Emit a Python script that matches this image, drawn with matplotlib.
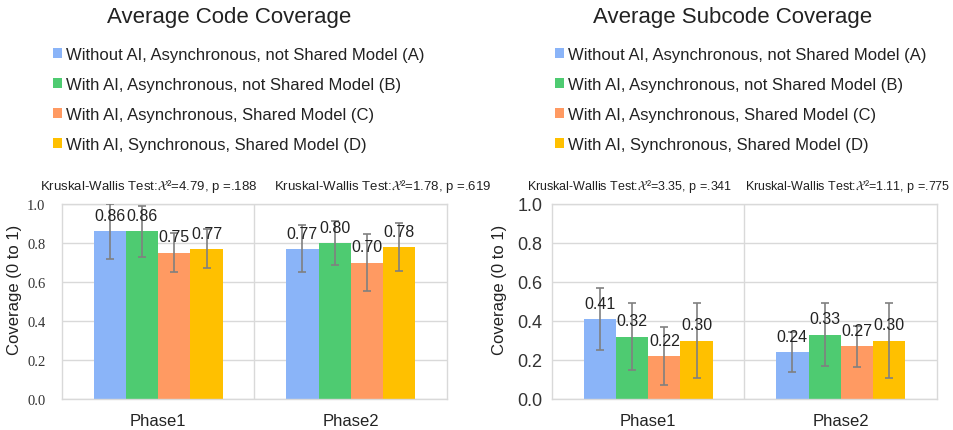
import matplotlib
matplotlib.use("Agg")
import matplotlib.pyplot as plt
import numpy as np

plt.rcParams['font.family'] = ['Liberation Sans', 'DejaVu Sans']
plt.rcParams['mathtext.fontset'] = 'stix'

phases = ['Phase1', 'Phase2']
groups = ['Without AI, Asynchronous, not Shared Model (A)',
          'With AI, Asynchronous, not Shared Model (B)',
          'With AI, Asynchronous, Shared Model (C)',
          'With AI, Synchronous, Shared Model (D)']
colors = ['#8AB4F8', '#4ECB71', '#FF9A62', '#FFC000']

# mean coverage per group, one list per phase
code_mean = [[0.86, 0.86, 0.75, 0.77],
             [0.77, 0.80, 0.70, 0.78]]
code_err = [[0.14, 0.13, 0.10, 0.10],
            [0.12, 0.115, 0.147, 0.123]]
sub_mean = [[0.41, 0.32, 0.22, 0.30],
            [0.24, 0.33, 0.27, 0.30]]
sub_err = [[0.158, 0.172, 0.148, 0.19],
           [0.104, 0.16, 0.104, 0.19]]

code_tests = ['Kruskal-Wallis Test:$\\mathcal{X}$\u00b2=4.79, p =.188',
              'Kruskal-Wallis Test:$\\mathcal{X}$\u00b2=1.78, p =.619']
sub_tests = ['Kruskal-Wallis Test:$\\mathcal{X}$\u00b2=3.35, p =.341',
             'Kruskal-Wallis Test:$\\mathcal{X}$\u00b2=1.11, p =.775']

W, H = 954, 431
fig = plt.figure(figsize=(W / 100, H / 100), dpi=100)

grid_c = '#d9d9d9'
bar_w = 0.1675


def panel(left, mean, err, title, tests, tick_font, tick_size, tick_pad,
          title_x, test_x, test_size, ylab_x, leg_x):
    ax = fig.add_axes([left / W, 31 / H, 385 / W, 195 / H])
    x = np.arange(len(phases))
    mean = np.array(mean)
    err = np.array(err)
    bars = []
    for i in range(len(groups)):
        pos = x + (i - 1.5) * bar_w
        b = ax.bar(pos, mean[:, i], bar_w, color=colors[i], label=groups[i],
                   zorder=2)
        bars.append(b)
        ax.errorbar(pos, mean[:, i], yerr=err[:, i], fmt='none',
                    ecolor='#808080', elinewidth=1.2, capsize=3, capthick=1.2,
                    zorder=3)
        for xx, v in zip(pos, mean[:, i]):
            ax.annotate('%.2f' % v, (xx, v), xytext=(0, 6),
                        textcoords='offset points', ha='center', va='bottom',
                        fontsize=11.5, color='#222222', zorder=4)
    ax.set_xlim(-0.5, 1.5)
    ax.set_ylim(0, 1.0)
    ax.set_yticks(np.arange(0, 1.01, 0.2))
    ax.set_yticklabels(['%.1f' % t for t in np.arange(0, 1.01, 0.2)],
                       family=tick_font, fontsize=tick_size, color='#333333')
    ax.set_xticks(x)
    ax.set_xticklabels(phases, fontsize=12, color='#222222')
    ax.tick_params(length=0)
    ax.tick_params(axis='y', pad=tick_pad)
    ax.tick_params(axis='x', pad=10)
    ax.yaxis.grid(True, color=grid_c, linewidth=1, zorder=0)
    ax.axvline(0.5, color=grid_c, linewidth=1, zorder=0)
    for s in ax.spines.values():
        s.set_color(grid_c)
        s.set_linewidth(1)
    ax.set_axisbelow(True)
    fig.text(ylab_x / W, 1 - 290 / H, 'Coverage (0 to 1)', rotation=90,
             ha='center', va='center', fontsize=12, color='#222222')
    for tx, t in zip(test_x, tests):
        fig.text(tx / W, 1 - 187 / H, t, ha='left', va='center',
                 fontsize=test_size, color='#222222')
    fig.text(title_x / W, 1 - 17 / H, title, ha='center', va='center',
             fontsize=16, color='#222222')
    fig.legend(handles=bars, labels=groups, loc='upper left',
               bbox_to_anchor=(leg_x / W, 1 - 48 / H), frameon=False,
               fontsize=12, handlelength=0.55, handleheight=0.55,
               handletextpad=0.25, labelspacing=0.9, borderpad=0,
               borderaxespad=0, labelcolor='#222222')
    return ax


panel(62, code_mean, code_err, 'Average Code Coverage', code_tests,
      'Liberation Serif', 10.5, 12, 229, [40, 274], 9.5, 15, 53)
panel(552, sub_mean, sub_err, 'Average Subcode Coverage', sub_tests,
      'Liberation Sans', 13, 7, 733, [527, 745], 9, 500, 555)

fig.savefig('out.png', dpi=100)
